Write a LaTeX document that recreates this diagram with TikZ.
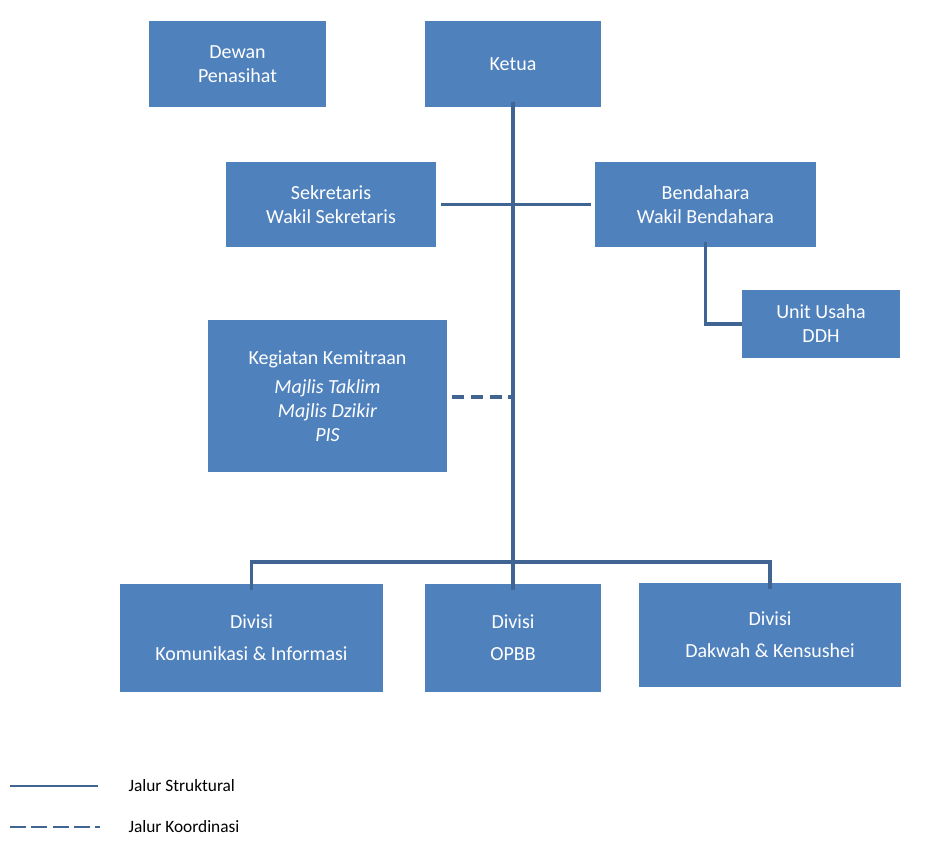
\documentclass[tikz,border=0pt]{standalone}
\usepackage{fontspec}
\setmainfont{Carlito}
\begin{document}
\tikzset{every picture/.style={line width=0.75pt}}
\definecolor{boxblue}{RGB}{79,129,189}
\definecolor{lineblue}{RGB}{65,101,146}
\tikzset{
  unit/.style={draw=none,fill=boxblue,text=white,align=center,inner sep=0pt,font=\fontsize{15}{18}\selectfont},
  jalur/.style={color=lineblue,line width=2.6},
  koord/.style={jalur,dash pattern=on 9pt off 5pt}
}
\begin{tikzpicture}[x=0.75pt,y=0.75pt,yscale=-1,xscale=1]
\useasboundingbox (0,0) rectangle (939,843);

% Boxes
\node [unit,minimum width=132.75pt,minimum height=64.5pt] (dewan) at (237.5,64) {Dewan\\Penasihat};
\node [unit,minimum width=132pt,minimum height=64.5pt] (ketua) at (513,64) {Ketua};
\node [unit,minimum width=157.5pt,minimum height=63.75pt] (sekre) at (331,204.5) {Sekretaris\\Wakil Sekretaris};
\node [unit,minimum width=165.75pt,minimum height=63.75pt] (benda) at (705.5,204.5) {Bendahara\\Wakil Bendahara};
\node [unit,minimum width=118.5pt,minimum height=51pt] (usaha) at (821,324) {Unit Usaha\\DDH};
\node [unit,minimum width=179.25pt,minimum height=114pt] (kegiatan) at (327.5,396) {Kegiatan Kemitraan\\[4pt]\textit{Majlis Taklim}\\\textit{Majlis Dzikir}\\\textit{PIS}};
\node [unit,minimum width=197.25pt,minimum height=81pt] (kominfo) at (251.5,638) {Divisi\\[6pt]Komunikasi \& Informasi};
\node [unit,minimum width=132pt,minimum height=81pt] (opbb) at (513,638) {Divisi\\[6pt]OPBB};
\node [unit,minimum width=196.5pt,minimum height=78pt] (dakwah) at (770,635) {Divisi\\[6pt]Dakwah \& Kensushei};

% Structural lines
\coordinate (pusat) at (513,562);
\draw [jalur] ([yshift=-4.5pt]ketua.south) -- ([yshift=4.5pt]opbb.north);
\draw [jalur] ([xshift=3pt]sekre.east) -- ([xshift=-3pt]benda.west);
\draw [jalur] ([yshift=-4pt]benda.south) |- (usaha.west);
\draw [jalur] ([yshift=4.5pt]kominfo.north) |- (pusat) -| ([yshift=4.5pt]dakwah.north);
% Coordination line
\coordinate (temu) at (513,397);
\draw [koord] ([xshift=3.5pt]kegiatan.east |- temu) -- (temu);

% Legend
\coordinate (ls1) at (10,786); \coordinate (le1) at (98,786);
\coordinate (ls2) at (10,827); \coordinate (le2) at (100,827);
\draw [jalur,line width=2] (ls1) -- (le1);
\draw [koord,line width=2,dash pattern=on 12pt off 4pt] (ls2) -- (le2);
\node [anchor=west,inner sep=0pt,font=\fontsize{13}{15}\selectfont] (ket1) at (128,786) {Jalur Struktural};
\node [anchor=west,inner sep=0pt,font=\fontsize{13}{15}\selectfont] (ket2) at (128,827) {Jalur Koordinasi};
\end{tikzpicture}
\end{document}
